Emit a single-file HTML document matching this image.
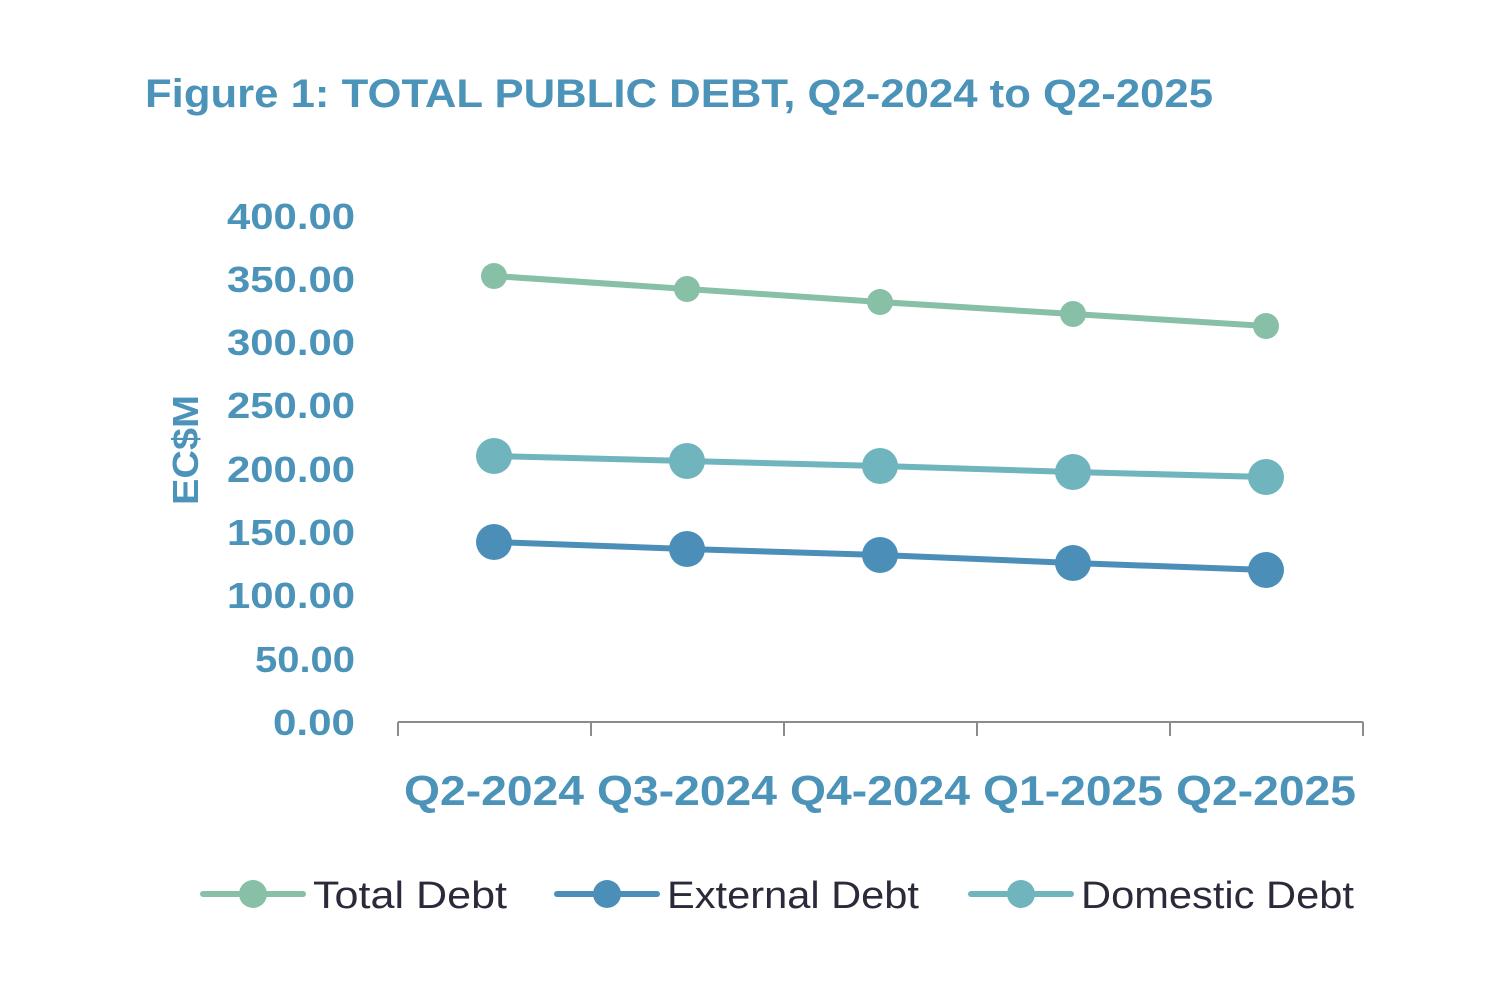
<!DOCTYPE html>
<html><head><meta charset="utf-8"><style>
html,body{margin:0;padding:0;background:#fff;}
svg{display:block;font-family:"Liberation Sans",sans-serif;}
</style></head><body>
<svg width="1500" height="990" viewBox="0 0 1500 990">
<text x="145" y="107" font-size="40" font-weight="bold" fill="#4b93b8" textLength="1068" lengthAdjust="spacingAndGlyphs">Figure 1: TOTAL PUBLIC DEBT, Q2-2024 to Q2-2025</text>
<g font-size="36" font-weight="bold" fill="#4b93b8" text-anchor="end">
<text x="355" y="735" textLength="82" lengthAdjust="spacingAndGlyphs">0.00</text>
<text x="355" y="672" textLength="100" lengthAdjust="spacingAndGlyphs">50.00</text>
<text x="355" y="608" textLength="128" lengthAdjust="spacingAndGlyphs">100.00</text>
<text x="355" y="545" textLength="128" lengthAdjust="spacingAndGlyphs">150.00</text>
<text x="355" y="482" textLength="128" lengthAdjust="spacingAndGlyphs">200.00</text>
<text x="355" y="418" textLength="128" lengthAdjust="spacingAndGlyphs">250.00</text>
<text x="355" y="355" textLength="128" lengthAdjust="spacingAndGlyphs">300.00</text>
<text x="355" y="292" textLength="128" lengthAdjust="spacingAndGlyphs">350.00</text>
<text x="355" y="229" textLength="128" lengthAdjust="spacingAndGlyphs">400.00</text>
</g>
<text transform="translate(198,450) rotate(-90)" font-size="36" font-weight="bold" fill="#4b93b8" text-anchor="middle" textLength="110" lengthAdjust="spacingAndGlyphs">EC$M</text>
<g stroke="#8c8c8c" stroke-width="2">
<line x1="398" y1="722" x2="1363" y2="722"/>
<line x1="398" y1="722" x2="398" y2="736"/><line x1="591" y1="722" x2="591" y2="736"/><line x1="784" y1="722" x2="784" y2="736"/><line x1="977" y1="722" x2="977" y2="736"/><line x1="1170" y1="722" x2="1170" y2="736"/><line x1="1363" y1="722" x2="1363" y2="736"/>
</g>
<g font-size="42" font-weight="bold" fill="#4b93b8" text-anchor="middle">
<text x="494" y="805" textLength="180" lengthAdjust="spacingAndGlyphs">Q2-2024</text>
<text x="687" y="805" textLength="180" lengthAdjust="spacingAndGlyphs">Q3-2024</text>
<text x="880" y="805" textLength="180" lengthAdjust="spacingAndGlyphs">Q4-2024</text>
<text x="1073" y="805" textLength="180" lengthAdjust="spacingAndGlyphs">Q1-2025</text>
<text x="1266" y="805" textLength="180" lengthAdjust="spacingAndGlyphs">Q2-2025</text>
</g>
<g fill="none" stroke-width="6" stroke-linecap="round">
<polyline stroke="#88bfa7" points="494,276 687,289 880,302 1073,314 1266,326"/>
<polyline stroke="#70b4bd" points="494,456 687,461 880,466 1073,472 1266,477"/>
<polyline stroke="#4b8fb8" points="494,542 687,549 880,555 1073,563 1266,570"/>
</g>
<g fill="#88bfa7"><circle cx="494" cy="276" r="13"/><circle cx="687" cy="289" r="13"/><circle cx="880" cy="302" r="13"/><circle cx="1073" cy="314" r="13"/><circle cx="1266" cy="326" r="13"/></g>
<g fill="#70b4bd"><circle cx="494" cy="456" r="18"/><circle cx="687" cy="461" r="18"/><circle cx="880" cy="466" r="18"/><circle cx="1073" cy="472" r="18"/><circle cx="1266" cy="477" r="18"/></g>
<g fill="#4b8fb8"><circle cx="494" cy="542" r="18"/><circle cx="687" cy="549" r="18"/><circle cx="880" cy="555" r="18"/><circle cx="1073" cy="563" r="18"/><circle cx="1266" cy="570" r="18"/></g>
<g stroke-width="6" stroke-linecap="round">
<line x1="203" y1="894" x2="303" y2="894" stroke="#88bfa7"/>
<line x1="557" y1="894" x2="657" y2="894" stroke="#4b8fb8"/>
<line x1="971" y1="894" x2="1071" y2="894" stroke="#70b4bd"/>
</g>
<circle cx="253" cy="894" r="14" fill="#88bfa7"/>
<circle cx="607" cy="894" r="14" fill="#4b8fb8"/>
<circle cx="1021" cy="894" r="14" fill="#70b4bd"/>
<g font-size="38" fill="#2a2a3a">
<text x="313" y="908" textLength="194" lengthAdjust="spacingAndGlyphs">Total Debt</text>
<text x="667" y="908" textLength="252" lengthAdjust="spacingAndGlyphs">External Debt</text>
<text x="1081" y="908" textLength="273" lengthAdjust="spacingAndGlyphs">Domestic Debt</text>
</g>
</svg>
</body></html>
